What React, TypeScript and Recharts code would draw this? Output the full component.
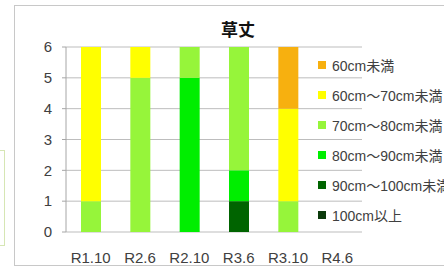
import React from 'react';
import { BarChart, Bar, XAxis, YAxis, CartesianGrid } from 'recharts';

const categories = ['R1.10', 'R2.6', 'R2.10', 'R3.6', 'R3.10', 'R4.6'];
const seriesNames = ['100cm以上', '90cm～100cm未満', '80cm～90cm未満', '70cm～80cm未満', '60cm～70cm未満', '60cm未満'];
const s100over = [0, 0, 0, 0, 0, 0];
const s90to100 = [0, 0, 0, 1, 0, 0];
const s80to90 = [0, 0, 5, 1, 0, 0];
const s70to80 = [1, 5, 1, 4, 1, 0];
const s60to70 = [5, 1, 0, 0, 3, 0];
const s60under = [0, 0, 0, 0, 2, 0];
const yTicks = [0, 1, 2, 3, 4, 5, 6];
const colors = ['#0B3A0B', '#006400', '#00EE00', '#96F53A', '#FFFF00', '#F7B00F'];

const seriesValues = [s100over, s90to100, s80to90, s70to80, s60to70, s60under];
const data = categories.map((c, i) => {
  const row: any = { name: c, idx: i };
  seriesNames.forEach((n, k) => {
    row['s' + k] = seriesValues[k][i];
  });
  return row;
});

const FONT = '"Liberation Sans", Arial, "Noto Sans CJK JP", sans-serif';

export default function App() {
  const legendOrder = seriesNames.map((n, k) => k).reverse();
  return (
    <div style={{ position: 'absolute', left: 0, top: 0, width: 444, height: 268, overflow: 'hidden', background: '#fff' }}>
      <div style={{ position: 'absolute', left: 14, top: 5, width: 440, height: 259, border: '1px solid #C8C8C8' }} />
      <div style={{ position: 'absolute', left: -4, top: 150, width: 7, height: 94, border: '1px solid #D6E6B4' }} />
      <div style={{ position: 'absolute', left: 0, top: 16, width: 476, textAlign: 'center', fontFamily: '"Noto Sans CJK JP", sans-serif', fontWeight: 700, fontSize: 17, color: '#111' }}>草丈</div>
      <BarChart
        width={444}
        height={268}
        data={data}
        margin={{ top: 47, right: 82, bottom: 0, left: 16 }}
        barSize={20}
        style={{ position: 'absolute', left: 0, top: 0 }}
      >
        <CartesianGrid vertical={false} stroke="#BDBDBD" xAxisId="cat" />
        <XAxis
          xAxisId="grid"
          type="number"
          domain={[0, 6]}
          ticks={yTicks}
          allowDataOverflow
          height={0}
          axisLine={{ stroke: '#A6A6A6' }}
          tickLine={{ stroke: '#A6A6A6' }}
          tickSize={5}
          tickFormatter={() => ''}
        />
        <XAxis
          xAxisId="cat"
          dataKey="name"
          height={36}
          axisLine={false}
          tickLine={false}
          tickMargin={14}
          interval={0}
          tick={{ fontFamily: FONT, fontSize: 15, fill: '#404040' }}
        />
        <YAxis
          domain={[0, 6]}
          ticks={yTicks}
          width={50}
          axisLine={{ stroke: '#A6A6A6' }}
          tickLine={{ stroke: '#A6A6A6' }}
          tickSize={4}
          tickMargin={10}
          tick={{ fontFamily: FONT, fontSize: 15, fill: '#404040' }}
        />
        {seriesNames.map((n, k) => (
          <Bar key={n} xAxisId="cat" dataKey={'s' + k} name={n} stackId="a" fill={colors[k]} isAnimationActive={false} />
        ))}
      </BarChart>
      <div style={{ position: 'absolute', left: 318, top: 50, width: 140, fontFamily: FONT, fontSize: 14, color: '#404040' }}>
        {legendOrder.map((k) => (
          <div key={k} style={{ height: 30, display: 'flex', alignItems: 'center', whiteSpace: 'nowrap' }}>
            <span style={{ display: 'inline-block', width: 8, height: 8, background: colors[k], marginRight: 6 }} />
            <span>{seriesNames[k]}</span>
          </div>
        ))}
      </div>
    </div>
  );
}
